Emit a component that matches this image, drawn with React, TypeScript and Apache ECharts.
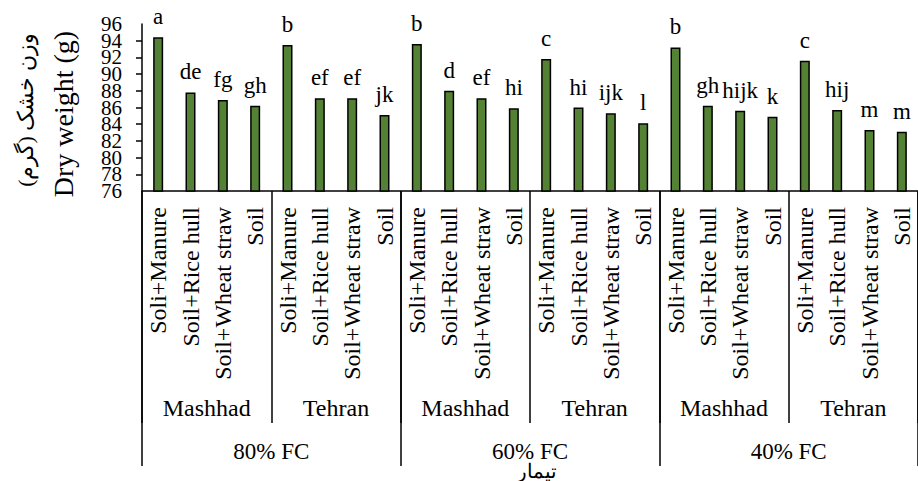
import React, { useEffect, useRef } from "react";
import * as echarts from "echarts";

const treatments = ["Soli+Manure", "Soil+Rice hull", "Soil+Wheat straw", "Soil"];
const sites = ["Mashhad", "Tehran"];
const fcLevels = ["80% FC", "60% FC", "40% FC"];
const values = [
  94.4, 87.8, 86.9, 86.2, 93.5, 87.1, 87.1, 85.1,
  93.6, 88.0, 87.1, 85.9, 91.8, 86.0, 85.3, 84.1,
  93.2, 86.2, 85.6, 84.9, 91.6, 85.7, 83.3, 83.1,
];
const letters = [
  "a", "de", "fg", "gh", "b", "ef", "ef", "jk",
  "b", "d", "ef", "hi", "c", "hi", "ijk", "l",
  "b", "gh", "hijk", "k", "c", "hij", "m", "m",
];
const yTicks = [76, 96, 2];
const yNameEn = "Dry weight (g)";
const yNameFa = "وزن خشک (گرم)";
const xNameFa = "تیمار";

const FONT = "Liberation Serif";

export default function App() {
  const ref = useRef<HTMLDivElement>(null);
  useEffect(() => {
    document.body.style.margin = "0";
    const chart = echarts.init(ref.current!, undefined, { renderer: "svg" });
    const cats: string[] = [];
    const siteCats: string[] = [];
    fcLevels.forEach(() => {
      sites.forEach((s) => {
        siteCats.push(s);
        treatments.forEach((t) => cats.push(t));
      });
    });
    const gridTop = 24;
    const gridH = 167;
    const axisLineStyle = { color: "#000", width: 1.5 };
    const yLabelStyle = {
      color: "#000",
      fontFamily: FONT,
      fontSize: 21,
      lineHeight: 14,
      margin: 20,
    };
    chart.setOption({
      animation: false,
      grid: { left: 142, top: gridTop, width: 786, height: gridH },
      xAxis: [
        {
          type: "category",
          data: cats,
          position: "bottom",
          axisLine: { show: true, lineStyle: axisLineStyle },
          axisTick: { show: false },
          axisLabel: {
            interval: 0,
            rotate: 90,
            margin: 16,
            color: "#000",
            fontFamily: FONT,
            fontSize: 24,
          },
        },
        {
          type: "category",
          data: siteCats,
          position: "bottom",
          offset: 232,
          axisLine: { show: false },
          axisTick: { show: true, inside: true, length: 232, interval: 0, lineStyle: axisLineStyle },
          axisLabel: {
            interval: 0,
            inside: true,
            margin: 3,
            color: "#000",
            fontFamily: FONT,
            fontSize: 24,
          },
        },
        {
          type: "category",
          data: fcLevels,
          position: "bottom",
          offset: 275,
          axisLine: { show: false },
          axisTick: { show: true, inside: true, length: 275, interval: 0, lineStyle: axisLineStyle },
          axisLabel: {
            interval: 0,
            inside: true,
            margin: 3,
            color: "#000",
            fontFamily: FONT,
            fontSize: 23,
          },
        },
      ],
      yAxis: [
        {
          type: "value",
          position: "left",
          min: yTicks[0],
          max: yTicks[1],
          interval: yTicks[2],
          axisLine: { show: true, lineStyle: axisLineStyle },
          axisTick: { show: true, length: 6, lineStyle: axisLineStyle },
          splitLine: { show: false },
          axisLabel: { ...yLabelStyle, showMinLabel: false, showMaxLabel: false },
        },
        {
          type: "value",
          position: "left",
          min: yTicks[0],
          max: yTicks[1],
          interval: yTicks[2],
          axisLine: { show: false },
          axisTick: { show: false },
          splitLine: { show: false },
          axisLabel: {
            ...yLabelStyle,
            showMinLabel: true,
            showMaxLabel: true,
            formatter: (v: number) => (v === yTicks[0] || v === yTicks[1] ? String(v) : ""),
          },
        },
      ],
      series: [
        {
          type: "bar",
          xAxisIndex: 0,
          yAxisIndex: 0,
          data: values,
          barWidth: 10,
          itemStyle: { color: "#548235", borderColor: "#000", borderWidth: 1.5 },
          label: {
            show: true,
            position: "top",
            distance: 9,
            color: "#000",
            fontFamily: FONT,
            fontSize: 23,
            formatter: (p: any) => letters[p.dataIndex],
          },
        },
      ],
      graphic: [
        {
          type: "text",
          x: 63,
          y: 114,
          rotation: Math.PI / 2,
          style: {
            text: yNameEn,
            fontFamily: FONT,
            fontSize: 28,
            fill: "#000",
            align: "center",
            verticalAlign: "middle",
          },
        },
        {
          type: "text",
          x: 25,
          y: 110,
          rotation: Math.PI / 2,
          style: {
            text: yNameFa,
            fontFamily: FONT,
            fontSize: 22,
            fill: "#000",
            align: "center",
            verticalAlign: "middle",
          },
        },
        {
          type: "text",
          x: 537,
          y: 471,
          style: {
            text: xNameFa,
            fontFamily: FONT,
            fontSize: 20,
            fill: "#000",
            align: "center",
            verticalAlign: "middle",
          },
        },
      ],
    });
    return () => chart.dispose();
  }, []);
  return <div ref={ref} style={{ width: 918, height: 481 }} />;
}
